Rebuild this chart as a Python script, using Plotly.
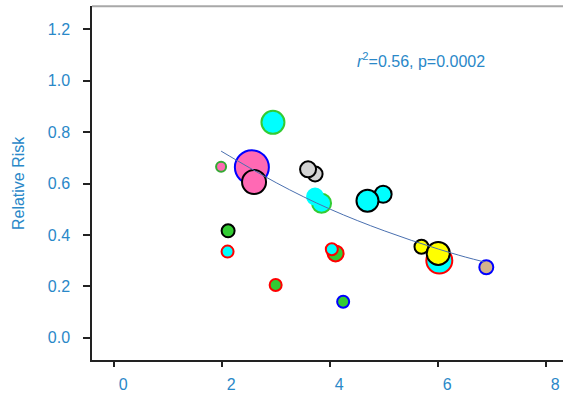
import plotly.graph_objects as go

# Study points (x = exposure, y = relative risk)
pt_x = [1.98, 2.55, 2.59, 2.94, 3.72, 3.59, 3.84, 3.72, 4.98, 4.69,
        2.11, 2.10, 2.99, 4.10, 4.03, 4.24, 6.02, 5.69, 6.00, 6.89]
pt_y = [0.665, 0.663, 0.606, 0.838, 0.637, 0.655, 0.523, 0.549, 0.558, 0.533,
        0.416, 0.335, 0.205, 0.328, 0.344, 0.140, 0.300, 0.354, 0.328, 0.274]
pt_size = [12, 36, 26, 25, 17, 18, 21, 18, 19, 24,
           15, 14, 14, 18, 14, 14, 28, 16, 25, 16]
pt_fill = ["#FF69B4", "#FF69B4", "#FF69B4", "#00FFFF", "#D3D3D3", "#D3D3D3",
           "#00FFFF", "#00FFFF", "#00FFFF", "#00FFFF",
           "#33CC33", "#00FFFF", "#33CC33", "#33CC33", "#00FFFF", "#33CC33",
           "#00FFFF", "#FFFF00", "#FFFF00", "#D2B48C"]
pt_edge = ["#33AA33", "#0000FF", "#000000", "#33CC33", "#000000", "#000000",
           "#33CC33", "#00FFFF", "#000000", "#000000",
           "#000000", "#FF0000", "#FF0000", "#FF0000", "#FF0000", "#0000FF",
           "#FF0000", "#000000", "#000000", "#0000FF"]

# Fitted curve
fit_x = [1.98, 2.5, 3.0, 3.5, 4.0, 4.5, 5.0, 5.5, 6.0, 6.5, 6.85]
fit_y = [0.726, 0.662, 0.603, 0.549, 0.500, 0.456, 0.416, 0.379, 0.345, 0.314, 0.295]

x_ticks = [0, 2, 4, 6, 8]
y_ticks = [0.0, 0.2, 0.4, 0.6, 0.8, 1.0, 1.2]
y_ticklabels = ["0.0", "0.2", "0.4", "0.6", "0.8", "1.0", "1.2"]

BLUE = "#2A88C8"
FS = 16

fig = go.Figure()
fig.add_trace(go.Scatter(
    x=pt_x, y=pt_y, mode="markers",
    marker=dict(size=[s - 2 for s in pt_size], color=pt_fill,
                line=dict(color=pt_edge, width=2), opacity=1),
    hoverinfo="skip", showlegend=False))
fig.add_trace(go.Scatter(
    x=fit_x, y=fit_y, mode="lines", line=dict(color="#4A70B0", width=1, shape="spline"),
    hoverinfo="skip", showlegend=False))

fig.update_layout(
    width=563, height=396,
    margin=dict(l=92, r=0, t=6, b=36),
    paper_bgcolor="white", plot_bgcolor="white",
    font=dict(family="Arial, Liberation Sans, sans-serif", size=FS, color=BLUE),
    xaxis=dict(range=[-0.41, 8.31], tickvals=x_ticks, showgrid=False, zeroline=False,
               showline=True, linecolor="#222222", linewidth=1.5,
               ticks="outside", ticklen=5, tickcolor="#222222", tickwidth=1.5,
               ticklabelshift=9, ticklabelstandoff=4,
               tickfont=dict(size=FS, color=BLUE)),
    yaxis=dict(range=[-0.0868, 1.2907], tickvals=y_ticks, ticktext=y_ticklabels,
               showgrid=False, zeroline=False,
               showline=True, linecolor="#222222", linewidth=1.5,
               ticks="outside", ticklen=7, tickcolor="#222222", tickwidth=1.5,
               ticklabelstandoff=10,
               tickfont=dict(size=FS, color=BLUE)),
    shapes=[dict(type="line", xref="paper", yref="paper", x0=0, x1=1, y0=0.999, y1=0.999,
                 layer="above", line=dict(color="#A8A8A8", width=2))],
    annotations=[
        dict(text="Relative Risk", xref="paper", yref="paper", x=-0.157, y=0.5,
             textangle=-90, showarrow=False, xanchor="center", yanchor="middle",
             font=dict(size=FS, color=BLUE)),
        dict(text="<i>r</i><sup>2</sup>=0.56, p=0.0002", xref="x", yref="y",
             x=5.68, y=1.08, showarrow=False, xanchor="center", yanchor="middle",
             font=dict(size=FS, color=BLUE)),
    ],
)

fig.write_html("out.html", config={"displayModeBar": False},
               post_script="document.body.style.margin='0';document.body.style.padding='0';")
